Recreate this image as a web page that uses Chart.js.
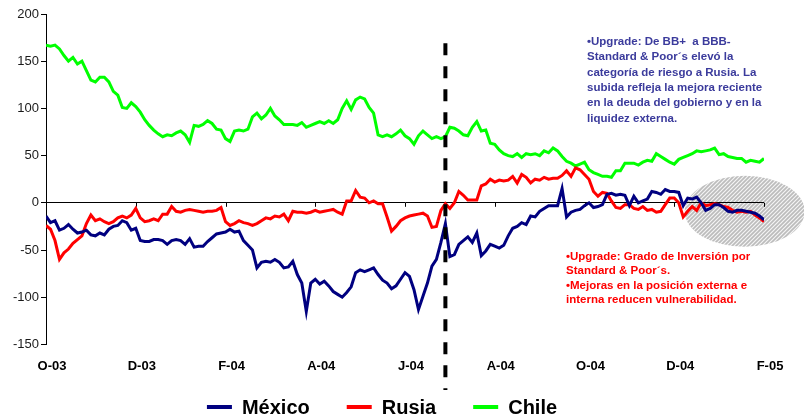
<!DOCTYPE html>
<html>
<head>
<meta charset="utf-8">
<script src="https://cdn.jsdelivr.net/npm/chart.js@4"></script>
<style>
  html, body { margin: 0; padding: 0; background: #ffffff; }
  #wrap { width: 804px; height: 420px; }
</style>
</head>
<body>
<div id="wrap"><canvas id="c" width="804" height="420"></canvas></div>
<script>
// Spread series, one point per step (Oct 2003 .. Feb 2005), label every 20 steps
const tickLabels = ['O-03', 'D-03', 'F-04', 'A-04', 'J-04', 'A-04', 'O-04', 'D-04', 'F-05'];
const stepsPerLabel = 20;

const mexico = [
  -14,-21,-19,-29,-27,-23,-28,-32,-31,-29,
  -34,-35,-32,-34,-28,-25,-24,-19,-21,-29,
  -27,-40,-41,-41,-39,-39,-40,-44,-40,-39,
  -40,-44,-38,-47,-46,-46,-41,-37,-33,-32,
  -31,-28,-31,-30,-40,-45,-50,-69,-63,-62,
  -63,-60,-63,-69,-68,-62,-76,-85,-115,-85,
  -81,-86,-83,-88,-94,-97,-100,-95,-89,-74,
  -71,-73,-71,-69,-76,-82,-85,-91,-88,-81,
  -74,-78,-92,-113,-99,-85,-67,-60,-42,-22,
  -57,-55,-44,-40,-36,-42,-32,-56,-51,-44,
  -46,-48,-45,-35,-27,-25,-21,-23,-14,-15,
  -9,-6,-3,-3,-3,15,-15,-10,-8,-7,
  -3,0,-5,-4,-2,9,10,8,9,8,
  -3,7,0,2,4,12,11,9,14,12,
  12,11,-3,5,4,6,0,-8,-6,-2,
  -2,-5,-9,-10,-8,-8,-9,-10,-11,-14,
  -18
];

const rusia = [
  -24,-28,-40,-60,-53,-49,-43,-39,-35,-22,
  -13,-19,-17,-20,-22,-20,-16,-14,-16,-13,
  -6,-16,-20,-19,-17,-19,-12,-12,-4,-9,
  -10,-8,-7,-8,-9,-10,-9,-9,-8,-5,
  -20,-24,-22,-19,-21,-22,-24,-22,-19,-16,
  -17,-14,-15,-12,-19,-9,-10,-10,-11,-10,
  -8,-10,-9,-8,-7,-10,-12,2,2,13,
  6,5,0,2,-1,-1,-15,-30,-25,-19,
  -16,-14,-13,-12,-11,-14,-26,-25,-8,-1,
  -6,0,12,8,3,3,3,18,20,25,
  22,24,23,24,28,21,30,27,21,25,
  24,27,25,26,26,29,34,28,37,35,
  30,25,12,7,11,10,2,-5,-6,-2,
  -2,-6,-7,-4,-8,-7,-10,-9,-2,5,
  5,0,-15,-9,-4,-8,0,-3,-2,-1,
  -2,-4,-5,-8,-10,-9,-10,-9,-13,-16,
  -20
];

const chile = [
  167,166,167,163,156,150,154,147,150,140,
  130,128,133,133,128,118,114,101,100,106,
  102,96,88,82,77,73,70,72,71,74,
  76,72,64,82,81,83,87,84,78,77,
  68,65,76,77,76,78,91,95,89,93,
  100,92,88,83,83,83,82,85,80,82,
  84,86,84,87,84,88,100,108,99,109,
  112,110,101,95,72,70,72,70,73,77,
  71,68,62,71,76,72,68,70,68,70,
  80,79,76,72,71,80,86,76,77,63,
  62,56,52,50,49,52,48,52,51,52,
  50,55,53,58,55,49,44,42,39,41,
  43,35,32,30,28,28,27,34,34,42,
  42,42,40,43,45,44,52,49,46,43,
  41,46,48,50,52,55,54,55,56,58,
  51,52,49,48,47,47,43,45,44,43,
  47
];

const seriesNames = ['México', 'Rusia', 'Chile'];
const seriesColors = ['#000080', '#ff0000', '#00ff00'];

// Rating change marker (step index) and highlighted recent window
const upgradeStep = 89;
const highlightStep = 155.7;
const highlightValue = -9;

const noteRusia = [
  '•Upgrade: De BB+  a BBB-',
  'Standard & Poor´s elevó la',
  'categoría de riesgo a Rusia. La',
  'subida refleja la mejora reciente',
  'en la deuda del gobierno y en la',
  'liquidez externa.'
];
const noteMexico = [
  '•Upgrade: Grado de Inversión por',
  'Standard & Poor´s.',
  '•Mejoras en la posición externa e',
  'interna reducen vulnerabilidad.'
];

const steps = mexico.map((_, i) => i);
const FONT = '"Liberation Sans", Arial, Helvetica, sans-serif';

function hatchPattern(ctx) {
  const p = document.createElement('canvas');
  p.width = 4; p.height = 4;
  const g = p.getContext('2d');
  g.fillStyle = '#bcbcbc';
  g.fillRect(0, 0, 4, 4);
  g.strokeStyle = '#f4f4f4';
  g.lineWidth = 1.2;
  g.beginPath();
  g.moveTo(-1, 5); g.lineTo(5, -1);
  g.moveTo(3, 5); g.lineTo(5, 3);
  g.moveTo(-1, 1); g.lineTo(1, -1);
  g.stroke();
  return ctx.createPattern(p, 'repeat');
}

const decorations = {
  id: 'decorations',
  beforeDraw(chart) {
    const { ctx, scales: { x, y } } = chart;
    const cx = x.getPixelForValue(highlightStep);
    const cy = y.getPixelForValue(highlightValue);
    ctx.save();
    ctx.fillStyle = hatchPattern(ctx);
    ctx.beginPath();
    ctx.ellipse(cx, cy, 60, 35.5, 0, 0, Math.PI * 2);
    ctx.fill();
    ctx.restore();
  },
  beforeDatasetsDraw(chart) {
    const { ctx, scales: { x, y } } = chart;
    const y0 = y.getPixelForValue(0);
    ctx.save();
    ctx.strokeStyle = '#000';
    ctx.lineWidth = 1;
    x.ticks.forEach(t => {
      const px = Math.round(x.getPixelForValue(t.value)) + 0.5;
      ctx.beginPath();
      ctx.moveTo(px, y0);
      ctx.lineTo(px, y0 + 4);
      ctx.stroke();
    });
    ctx.restore();
  },
  afterDatasetsDraw(chart) {
    const { ctx, scales: { x, y } } = chart;
    const px = x.getPixelForValue(upgradeStep);
    ctx.save();
    ctx.strokeStyle = '#000';
    ctx.lineWidth = 4;
    ctx.setLineDash([12, 11]);
    ctx.beginPath();
    ctx.moveTo(px, y.getPixelForValue(169));
    ctx.lineTo(px, 390);
    ctx.stroke();
    ctx.restore();
  },
  afterDraw(chart) {
    const { ctx, chartArea } = chart;
    ctx.save();
    ctx.textBaseline = 'middle';
    ctx.textAlign = 'left';
    ctx.font = 'bold 11.5px ' + FONT;
    ctx.fillStyle = '#3b3b9c';
    noteRusia.forEach((t, i) => ctx.fillText(t, 587, 42 + i * 15.3));
    ctx.fillStyle = '#ff0000';
    noteMexico.forEach((t, i) => ctx.fillText(t, 566, 257 + i * 14.2));

    // legend row
    ctx.font = 'bold 20px ' + FONT;
    const lineW = 25, textGap = 10, itemGap = 37;
    const widths = seriesNames.map(n => lineW + textGap + ctx.measureText(n).width);
    const total = widths.reduce((a, b) => a + b, 0) + itemGap * (widths.length - 1);
    let lx = chartArea.right / 2 - total / 2;
    const ly = 407;
    seriesNames.forEach((n, i) => {
      ctx.fillStyle = seriesColors[i];
      ctx.fillRect(lx, ly - 2, lineW, 4);
      ctx.fillStyle = '#000';
      ctx.fillText(n, lx + lineW + textGap, ly + 1);
      lx += widths[i] + itemGap;
    });
    ctx.restore();
  }
};

new Chart(document.getElementById('c'), {
  type: 'line',
  data: {
    labels: steps,
    datasets: [mexico, rusia, chile].map((d, i) => ({
      label: seriesNames[i],
      data: d,
      borderColor: seriesColors[i],
      backgroundColor: seriesColors[i],
      borderWidth: 3,
      pointRadius: 0,
      tension: 0,
      fill: false
    }))
  },
  options: {
    responsive: false,
    animation: false,
    devicePixelRatio: 1,
    layout: { padding: { top: 14, right: 40, bottom: 32, left: 11 } },
    plugins: {
      legend: { display: false },
      tooltip: { enabled: false },
      title: { display: false }
    },
    scales: {
      x: {
        type: 'linear',
        min: 0,
        max: 160,
        grid: { display: false, drawTicks: false },
        border: { display: false },
        ticks: {
          stepSize: stepsPerLabel,
          autoSkip: false,
          maxRotation: 0,
          padding: 14,
          labelOffset: 6,
          color: '#000',
          font: { family: FONT, size: 13, weight: 'bold' },
          callback: v => tickLabels[Math.round(v / stepsPerLabel)] || ''
        }
      },
      y: {
        min: -150,
        max: 200,
        grid: {
          color: c => (c.tick && c.tick.value === 0) ? '#000' : 'rgba(0,0,0,0)',
          tickColor: '#000',
          tickLength: 5,
          lineWidth: 1
        },
        border: { display: true, color: '#000', width: 1 },
        ticks: {
          stepSize: 50,
          padding: 2,
          color: '#1a1a1a',
          font: { family: FONT, size: 13 }
        }
      }
    }
  },
  plugins: [decorations]
});
</script>
</body>
</html>
